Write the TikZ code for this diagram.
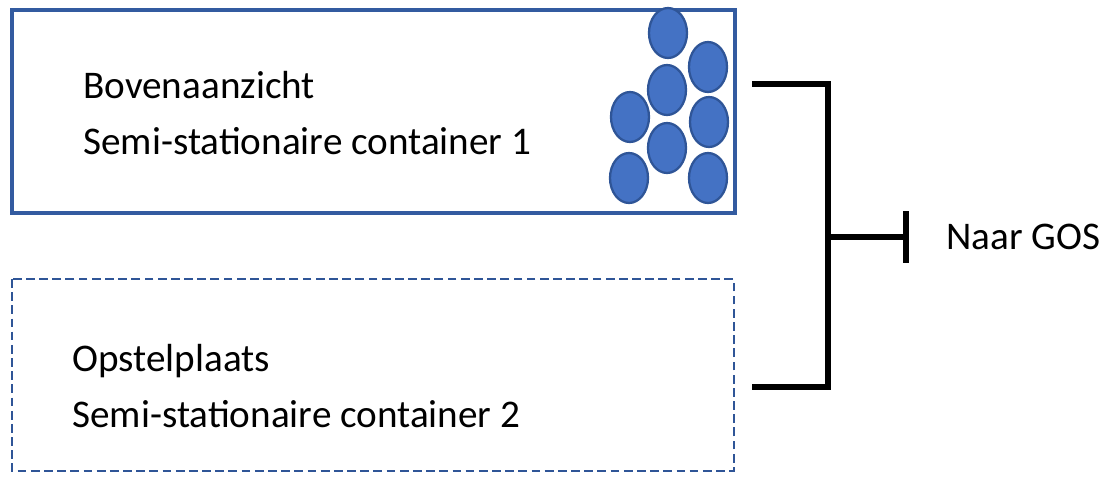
\documentclass[tikz,border=0pt]{standalone}
\usepackage{fontspec}
\setmainfont{Carlito}
\definecolor{boxblue}{HTML}{4472C4}
\definecolor{darkblue}{HTML}{2F5597}
\tikzset{
  container/.style={draw=darkblue!80!boxblue,line width=2pt},
  opstel/.style={draw=darkblue,line width=1.5pt,dash pattern=on 5pt off 2.5pt},
  label/.style={anchor=west,align=left,inner sep=0pt,font=\fontsize{22.3}{32}\selectfont},
  kogel/.style={fill=boxblue,draw=darkblue,line width=1.3pt},
  beugel/.style={line width=3pt}
}
\begin{document}
\begin{tikzpicture}[x=0.02cm,y=-0.02cm]
        \useasboundingbox (0,0) rectangle (1106,480);
        % containers
        \draw[container] (12,10) rectangle (735,213);
        \node[label] (c1) at (83,113) {Bovenaanzicht\\Semi-stationaire container 1};
        \draw[opstel] (12,279) rectangle (734,471);
        \node[label] (c2) at (72,386) {Opstelplaats\\Semi-stationaire container 2};
        % bovenaanzicht kogels
        \foreach \x/\y in {668/33, 708/67, 667/90, 630/117, 709/122, 667/148, 629/178, 708/178}
          \draw[kogel] (\x,\y) ellipse (19 and 25);
        % beugel naar GOS
        \coordinate (b1) at (752,84);
        \coordinate (b2) at (828,84);
        \coordinate (b3) at (828,387);
        \coordinate (b4) at (752,387);
        \coordinate (m) at (828,237);
        \coordinate (t) at (906,237);
        \node[anchor=west,inner sep=0pt,font=\fontsize{22.3}{26}\selectfont] (gos) at (946,237) {Naar GOS};
        \draw[beugel] (b1) -- (b2) -- (b3) -- (b4);
        \draw[beugel] (m) -- (t);
        \draw[beugel] ([yshift=0.52cm]t) -- ([yshift=-0.52cm]t);
\end{tikzpicture}
\end{document}
